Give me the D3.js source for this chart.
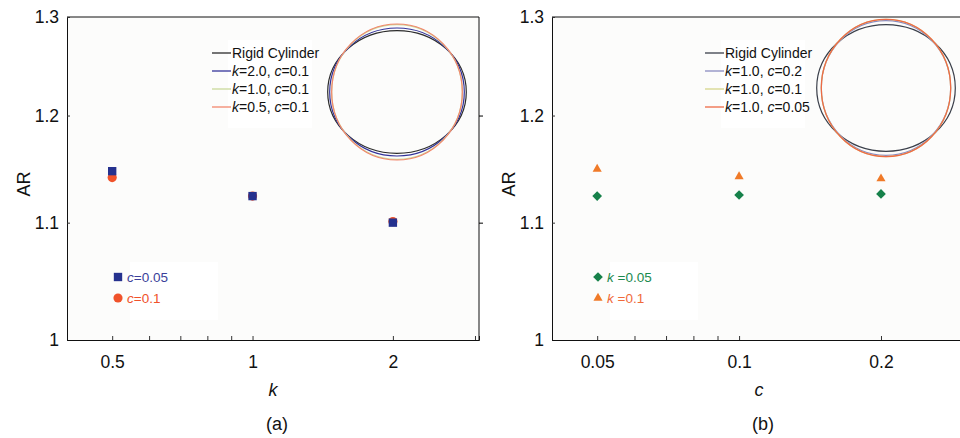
<!DOCTYPE html>
<html><head><meta charset="UTF-8">
<title>AR vs k and c</title>
<script src="https://d3js.org/d3.v7.min.js"></script>
<style>
  body { margin: 0; background: #fff; }
  svg { display: block; font-family: "Liberation Sans", Arial, sans-serif; }
</style>
</head>
<body>
<svg id="chart" width="960" height="438"></svg>
<script>
// ---- data ----
var yTicks = [1, 1.1, 1.2, 1.3];

// panel (a): AR against k
var kValues = [0.5, 1, 2];
var kTicks = [0.5, 1, 2];
var kMinor = [0.6, 0.7, 0.8, 0.9, 3];
var arC005 = [1.147, 1.124, 1.100];   // c = 0.05 (squares)
var arC01  = [1.141, 1.124, 1.101];   // c = 0.1  (circles)

// panel (b): AR against c
var cValues = [0.05, 0.1, 0.2];
var cTicks = [0.05, 0.1, 0.2];
var cMinor = [0.06, 0.07, 0.08, 0.09];
var arK005 = [1.124, 1.125, 1.126];   // k = 0.05 (diamonds)
var arK01  = [1.149, 1.142, 1.140];   // k = 0.1  (triangles)

// inset cross sections, semi-axes relative to the undeformed radius
var shapeNamesA = ["Rigid Cylinder", "k=2.0, c=0.1", "k=1.0, c=0.1", "k=0.5, c=0.1"];
var shapeRxA = [1.05, 1.02, 0.99, 0.99];
var shapeRyA = [0.93, 0.97, 1.02, 1.03];
var shapeNamesB = ["Rigid Cylinder", "k=1.0, c=0.2", "k=1.0, c=0.1", "k=1.0, c=0.05"];
var shapeRxB = [1.05, 0.98, 0.98, 0.98];
var shapeRyB = [0.96, 1.02, 1.04, 1.04];

var svg = d3.select("#chart");
var plotTop = 17, plotBottom = 340;

function italicLabel(sel, str) {
  // "k=1.0, c=0.1" -> italic letters k / c
  var parts = str.split(/([kc])(?=\s?=)/);
  parts.forEach(function(p) {
    if (!p) return;
    var t = sel.append("tspan").text(p);
    if (p === "k" || p === "c") t.attr("font-style", "italic");
  });
}

function drawPanel(o) {
  var g = svg.append("g");
  var x = d3.scaleLog().domain(o.xDomain).range([o.left, o.right]);
  var y = d3.scaleLog().domain([1, 1.3]).range([plotBottom, plotTop]);

  g.append("rect").attr("x", o.left).attr("y", plotTop)
    .attr("width", o.right - o.left).attr("height", plotBottom - plotTop)
    .attr("fill", "#fcfcfb");

  // inset legend box and lower legend box
  g.append("rect").attr("x", o.legX + 16).attr("y", 40).attr("width", 84).attr("height", 88).attr("fill", "#fff");
  g.append("rect").attr("x", o.mlegX + 12).attr("y", 262).attr("width", 88).attr("height", 58).attr("fill", "#fff");

  // frame
  g.append("line").attr("x1", o.left).attr("x2", o.right).attr("y1", plotTop).attr("y2", plotTop).attr("stroke", "#111");
  g.append("line").attr("x1", o.right).attr("x2", o.right).attr("y1", plotTop).attr("y2", plotBottom).attr("stroke", "#111");

  var yAxis = g.append("g").attr("transform", "translate(" + o.left + ",0)")
    .call(d3.axisLeft(y).tickValues(yTicks).tickSize(-3).tickPadding(8)
      .tickFormat(function(d) { return d === 1 ? "1" : d3.format(".1f")(d); }));
  var xAxis = g.append("g").attr("transform", "translate(0," + plotBottom + ")")
    .call(d3.axisBottom(x).tickValues(o.ticks.concat(o.minor)).tickSize(-4).tickPadding(16)
      .tickFormat(function(d) { return o.ticks.indexOf(d) >= 0 ? String(d) : ""; }));
  g.append("g").attr("transform", "translate(" + o.right + ",0)")
    .call(d3.axisRight(y).tickValues([1.1, 1.2]).tickSize(4).tickFormat(""))
    .select(".domain").remove();
  [yAxis, xAxis].forEach(function(a) {
    a.attr("font-size", 17.5).attr("font-family", "Liberation Sans, Arial, sans-serif");
    a.select(".domain").attr("stroke", "#111");
    a.selectAll(".tick line").attr("stroke", "#333");
    a.selectAll("text").attr("fill", "#111");
  });

  // axis titles
  g.append("text").attr("transform", "translate(" + (o.left - 37) + "," + y(1.135) + ") rotate(-90)")
    .attr("text-anchor", "middle").attr("font-size", 18).attr("fill", "#111").text("AR");
  g.append("text").attr("x", o.titleX).attr("y", 396).attr("text-anchor", "middle")
    .attr("font-size", 18).attr("font-style", "italic").attr("fill", "#111").text(o.xTitle);
  g.append("text").attr("x", o.titleX + 4).attr("y", 430).attr("text-anchor", "middle")
    .attr("font-size", 18).attr("fill", "#111").text(o.tag);

  // inset cross sections
  var r = d3.scaleLinear().domain([0, 1]).range([0, 66]);
  o.shapes.forEach(function(s) {
    g.append("ellipse").attr("cx", o.inset[0]).attr("cy", o.inset[1])
      .attr("rx", r(s.rx)).attr("ry", r(s.ry))
      .attr("fill", "none").attr("stroke", s.color).attr("stroke-width", 1.2);
  });
  var leg = g.append("g").attr("transform", "translate(" + o.legX + ",53)");
  o.shapes.forEach(function(s, i) {
    leg.append("line").attr("x1", 0).attr("x2", 19).attr("y1", i * 18).attr("y2", i * 18)
      .attr("stroke", s.color).attr("stroke-width", 1.3);
    var t = leg.append("text").attr("x", 20).attr("y", i * 18 + 5).attr("font-size", 14).attr("fill", "#111");
    italicLabel(t, s.name);
  });

  // markers, drawn bottom series first
  o.series.slice().reverse().forEach(function(s) {
    g.selectAll(null).data(o.xValues).enter().append("path")
      .attr("transform", function(d, i) { return "translate(" + x(d) + "," + y(s.values[i]) + ")"; })
      .attr("d", d3.symbol().type(s.symbol).size(s.size))
      .attr("fill", s.color);
  });

  // marker legend
  o.series.forEach(function(s, i) {
    var yy = 277 + i * 21;
    g.append("path").attr("transform", "translate(" + o.mlegX + "," + yy + ")")
      .attr("d", d3.symbol().type(s.symbol).size(s.size)).attr("fill", s.color);
    var t = g.append("text").attr("x", o.mlegX + 9).attr("y", yy + 5)
      .attr("font-size", 13.5).attr("fill", s.textColor);
    italicLabel(t, s.label);
  });
}

drawPanel({
  left: 67, right: 479, xDomain: [0.4, 3.06],
  ticks: kTicks, minor: kMinor, xValues: kValues,
  xTitle: "k", tag: "(a)", titleX: 273,
  inset: [397, 92], legX: 212, mlegX: 118,
  shapes: shapeNamesA.map(function(n, i) {
    return { name: n, rx: shapeRxA[i], ry: shapeRyA[i], color: ["#2b2b2b", "#33339a", "#c9d99a", "#f3876d"][i] };
  }),
  series: [
    { label: "c=0.05", values: arC005, symbol: d3.symbolSquare, size: 70, color: "#25318e", textColor: "#3b3f9a" },
    { label: "c=0.1", values: arC01, symbol: d3.symbolCircle, size: 66, color: "#f0522a", textColor: "#f0522a" }
  ]
});

drawPanel({
  left: 552, right: 964, xDomain: [0.0401, 0.30],
  ticks: cTicks, minor: cMinor, xValues: cValues,
  xTitle: "c", tag: "(b)", titleX: 759,
  inset: [886, 88], legX: 705, mlegX: 598,
  shapes: shapeNamesB.map(function(n, i) {
    return { name: n, rx: shapeRxB[i], ry: shapeRyB[i], color: ["#3a3f4a", "#8a8cc0", "#d6d68a", "#ee6a45"][i] };
  }),
  series: [
    { label: "k =0.05", values: arK005, symbol: d3.symbolDiamond2, size: 60, color: "#16814a", textColor: "#1b8a4e" },
    { label: "k =0.1", values: arK01, symbol: d3.symbolTriangle, size: 36, color: "#f07a28", textColor: "#f06a3a" }
  ]
});
</script>
</body></html>
